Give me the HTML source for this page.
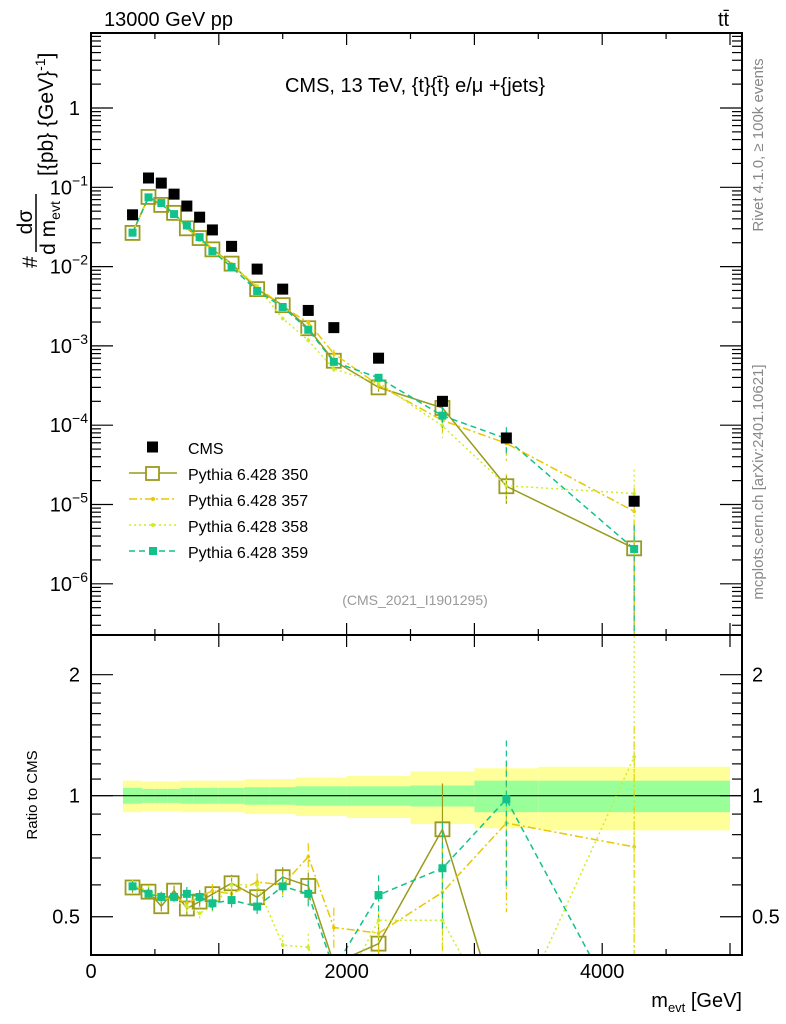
<!DOCTYPE html>
<html><head><meta charset="utf-8"><style>
body{margin:0;background:#fff}
svg{display:block;font-family:"Liberation Sans",sans-serif}
</style></head><body>
<svg id="chart" width="786" height="1024" viewBox="0 0 786 1024" xmlns="http://www.w3.org/2000/svg">
<g id="bands"></g>
<g id="marks"></g>
<g id="axes"></g>
<text x="104" y="26" font-size="20">13000 GeV pp</text>
<text x="718" y="26" font-size="20">tt̄</text>
<text x="415" y="92" font-size="20" text-anchor="middle">CMS, 13 TeV, {t}{t̄} e/μ +{jets}</text>
<text x="415" y="605" font-size="14" fill="#999" text-anchor="middle">(CMS_2021_I1901295)</text>
<text transform="translate(763,145) rotate(-90)" font-size="15" fill="#888" text-anchor="middle">Rivet 4.1.0, ≥ 100k events</text>
<text transform="translate(763,482) rotate(-90)" font-size="15" fill="#888" text-anchor="middle">mcplots.cern.ch [arXiv:2401.10621]</text>
<g font-size="21">
<text transform="translate(37,268) rotate(-90)">#</text>
<text transform="translate(32,222) rotate(-90)" text-anchor="middle">dσ</text>
<line x1="36" y1="194" x2="36" y2="252" stroke="#000" stroke-width="1.5"/>
<text transform="translate(55,228) rotate(-90)" text-anchor="middle">d m<tspan font-size="14" dy="5">evt</tspan></text>
<text transform="translate(53,176) rotate(-90)">[{pb} {GeV}<tspan font-size="14" dy="-8">-1</tspan><tspan dy="8">]</tspan></text>
</g>
<text transform="translate(37,795) rotate(-90)" font-size="15" text-anchor="middle">Ratio to CMS</text>
<text x="742" y="1007" font-size="20" text-anchor="end">m<tspan font-size="13" dy="5">evt</tspan><tspan dy="-5"> [GeV]</tspan></text>
<g id="legend"></g>
</svg>
<script>
const binEdges=[250,400,500,600,700,800,900,1000,1200,1400,1600,1800,2000,2500,3000,3500,5000];
const binCenters=[325,450,550,650,750,850,950,1100,1300,1500,1700,1900,2250,2750,3250,4250];
const cmsValues=[0.045,0.131,0.113,0.082,0.058,0.042,0.029,0.018,0.0093,0.0052,0.0028,0.0017,7.0e-4,2.0e-4,6.9e-5,1.1e-5];
const p350=[0.0266,0.0756,0.060,0.0476,0.0304,0.0229,0.0165,0.0109,0.0052,0.00326,0.00167,6.5e-4,3.0e-4,1.65e-4,1.7e-5,2.8e-6];
const r357=[0.60,0.57,0.55,0.56,0.54,0.56,0.58,0.57,0.61,0.60,0.705,0.47,0.455,0.575,0.855,0.746];
const r358=[0.60,0.58,0.56,0.55,0.53,0.51,0.53,0.60,0.60,0.425,0.42,0.30,0.49,0.49,0.25,1.25];
const r359=[0.595,0.57,0.56,0.56,0.57,0.56,0.54,0.55,0.53,0.595,0.57,0.37,0.566,0.66,0.98,0.25];
const relErr359=[0.03,0.03,0.03,0.03,0.04,0.04,0.04,0.05,0.05,0.06,0.08,0.12,0.12,0.3,0.4,1.0];
const bandOuter=[0.09,0.085,0.085,0.085,0.09,0.09,0.09,0.09,0.1,0.1,0.11,0.11,0.12,0.15,0.17,0.18];
const bandInner=[0.045,0.04,0.04,0.04,0.045,0.045,0.045,0.045,0.05,0.05,0.055,0.055,0.055,0.06,0.09,0.09];
const yTicks=[1,-1,-2,-3,-4,-5,-6];
const ratioTicks=[0.5,1,2];
const xTicks=[0,2000,4000];

const NS="http://www.w3.org/2000/svg";
const L=91,R=742,T=33,MB=635,RB=955;
const X=v=>L+(v)*0.1278;
const Y=v=>108-Math.log10(v)*79.3;
const RY=r=>795.7-Math.log10(r)*402;
function mk(p,tag,at){const e=document.createElementNS(NS,tag);for(const k in at)e.setAttribute(k,at[k]);p.appendChild(e);return e;}
const bands=document.getElementById('bands'),marks=document.getElementById('marks'),axes=document.getElementById('axes'),legend=document.getElementById('legend');
const clipR=(y)=>Math.max(636,Math.min(RB,y));
const clipM=(y)=>Math.max(T,Math.min(MB,y));

binCenters.forEach((c,i)=>{
 const x1=X(binEdges[i]),x2=X(binEdges[i+1]);
 const b=mk(bands,'rect',{x:x1,y:RY(1+bandOuter[i]),width:x2-x1,height:RY(1-bandOuter[i])-RY(1+bandOuter[i]),fill:'#ffff99'});
 
 
 const g=mk(bands,'rect',{x:x1,y:RY(1+bandInner[i]),width:x2-x1,height:RY(1-bandInner[i])-RY(1+bandInner[i]),fill:'#99ff99'});
 
 
});
const one=mk(bands,'line',{x1:L,x2:R,y1:RY(1),y2:RY(1),stroke:'#000','stroke-width':1.2});



const series=[
 {name:'350',color:'#9a9a1e',dash:'',ratio:binCenters.map((c,i)=>p350[i]/cmsValues[i]),mark:'open'},
 {name:'357',color:'#e8c800',dash:'8,3,2,3',ratio:r357,mark:'dot'},
 {name:'358',color:'#ccee22',dash:'2,3',ratio:r358,mark:'dot'},
 {name:'359',color:'#11c28a',dash:'6,4',ratio:r359,mark:'sq'}
];
series.forEach(s=>{
 const vals=s.ratio.map((r,i)=>r*cmsValues[i]);
 const clipIdM='cm'+s.name, clipIdR='cr'+s.name;
 const d1=mk(marks,'clipPath',{id:clipIdM});mk(d1,'rect',{x:L,y:T,width:R-L,height:MB-T});
 const d2=mk(marks,'clipPath',{id:clipIdR});mk(d2,'rect',{x:L,y:MB,width:R-L,height:RB-MB});
 const pm=mk(marks,'polyline',{points:binCenters.map((c,i)=>X(c)+','+Y(vals[i])).join(' '),fill:'none',stroke:s.color,'stroke-width':1.5,'stroke-dasharray':s.dash,'clip-path':'url(#'+clipIdM+')'});
 
 
 const pr=mk(marks,'polyline',{points:binCenters.map((c,i)=>X(c)+','+RY(s.ratio[i])).join(' '),fill:'none',stroke:s.color,'stroke-width':1.5,'stroke-dasharray':s.dash,'clip-path':'url(#'+clipIdR+')'});
 
 
 binCenters.forEach((c,i)=>{
  const x=X(c),e=relErr359[i];
  [[Y(vals[i]),Y(vals[i]*(1+e)),Y(Math.max(vals[i]*(1-e),1e-9)),clipM],[RY(s.ratio[i]),RY(s.ratio[i]*(1+e)),RY(Math.max(s.ratio[i]*(1-e),0.01)),clipR]].forEach(([y,yu,yd,cl],k)=>{
   if(y<T-5||y>RB+5||(k==0&&y>MB)||(k==1&&y<MB))return;
   mk(marks,'line',{x1:x,x2:x,y1:cl(yu),y2:cl(yd),stroke:s.color,'stroke-width':1.2,'stroke-dasharray':s.dash});
   let m;
   if(s.mark=='open')m=mk(marks,'rect',{x:x-7,y:y-7,width:14,height:14,fill:'none',stroke:s.color,'stroke-width':1.8});
   else if(s.mark=='sq')m=mk(marks,'rect',{x:x-4,y:y-4,width:8,height:8,fill:s.color});
   else m=mk(marks,'circle',{cx:x,cy:y,r:1.8,fill:s.color});
   
   
  });
 });
});
binCenters.forEach((c,i)=>{
 const m=mk(marks,'rect',{x:X(c)-5.5,y:Y(cmsValues[i])-5.5,width:11,height:11,fill:'#000'});
 
 
});

[[T,MB],[MB,RB]].forEach(([a,b])=>mk(axes,'rect',{x:L,y:a,width:R-L,height:b-a,fill:'none',stroke:'#000','stroke-width':2}));
for(let v=0;v<=5000;v+=500){const x=X(v),len=v%1000==0?12:6;
 [[T,1],[MB,-1],[MB,1],[RB,-1]].forEach(([y,d])=>mk(axes,'line',{x1:x,x2:x,y1:y,y2:y+d*len,stroke:'#000','stroke-width':1.2}));}
xTicks.forEach(v=>{const t=mk(axes,'text',{x:X(v),y:978,'font-size':20,'text-anchor':'middle'});t.textContent=v;
 
 });
for(let d=-7;d<=0;d++)for(let k=1;k<10;k++){const y=Y(k*Math.pow(10,d));if(y<T||y>MB)continue;const len=k==1?22:10;
 mk(axes,'line',{x1:L,x2:L+len,y1:y,y2:y,stroke:'#000','stroke-width':1.2});mk(axes,'line',{x1:R,x2:R-len,y1:y,y2:y,stroke:'#000','stroke-width':1.2});}
yTicks.forEach(p=>{const y=p==1?Y(1):Y(Math.pow(10,p));const t=mk(axes,'text',{x:p==1?80:88,y:y+7,'font-size':20,'text-anchor':'end'});
 if(p==1)t.textContent='1';else{t.textContent='10';const s=mk(t,'tspan',{dy:-9,'font-size':14});s.textContent='−'+(-p);}
 
 });
[0.4,0.5,0.6,0.7,0.8,0.9,1,2].concat([1.1,1.2,1.3,1.4,1.5,1.6,1.7,1.8,1.9]).forEach(r=>{const y=RY(r);if(y<MB||y>RB)return;const len=(r==0.5||r==1||r==2)?22:10;
 mk(axes,'line',{x1:L,x2:L+len,y1:y,y2:y,stroke:'#000','stroke-width':1.2});mk(axes,'line',{x1:R,x2:R-len,y1:y,y2:y,stroke:'#000','stroke-width':1.2});});
ratioTicks.forEach(r=>{[[80,'end'],[752,'start']].forEach(([x,a])=>{const t=mk(axes,'text',{x:x,y:RY(r)+7,'font-size':20,'text-anchor':a});t.textContent=r;
 
 });});

const leg=[['CMS','#000','','cms'],['Pythia 6.428 350','#9a9a1e','','open'],['Pythia 6.428 357','#e8c800','8,3,2,3','dot'],['Pythia 6.428 358','#ccee22','2,3','dot'],['Pythia 6.428 359','#11c28a','6,4','sq']];
leg.forEach((l,i)=>{const y=447+i*26;
 const g=mk(legend,'g',{});
 
 
 if(l[3]=='cms')mk(g,'rect',{x:147,y:y-5.5,width:11,height:11,fill:'#000'});
 else{mk(g,'line',{x1:129,x2:177,y1:y,y2:y,stroke:l[1],'stroke-width':1.5,'stroke-dasharray':l[2]});
  if(l[3]=='open')mk(g,'rect',{x:146,y:y-6,width:13,height:13,fill:'#fff',stroke:l[1],'stroke-width':1.8});
  else if(l[3]=='sq')mk(g,'rect',{x:149,y:y-4,width:8,height:8,fill:l[1]});
  else mk(g,'circle',{cx:153,cy:y,r:2,fill:l[1]});}
 const t=mk(g,'text',{x:188,y:y+7,'font-size':16});t.textContent=l[0];});
</script>
</body></html>
